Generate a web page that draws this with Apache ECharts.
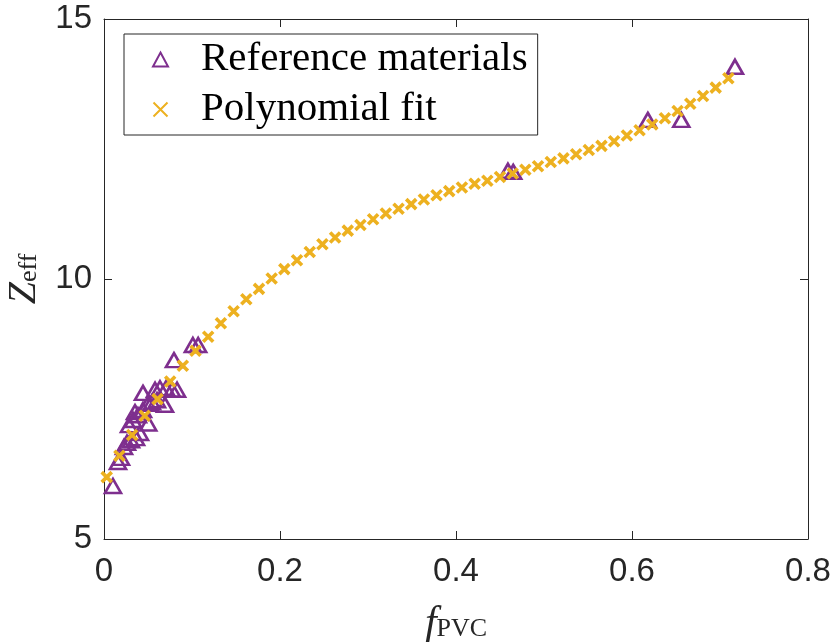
<!DOCTYPE html>
<html>
<head>
<meta charset="utf-8">
<script src="https://cdn.jsdelivr.net/npm/echarts@6/dist/echarts.min.js"></script>
<style>html,body{margin:0;padding:0;background:#fff;}#c{width:831px;height:642px;}</style>
</head>
<body>
<div id="c"></div>
<script>
// Reference materials (f_PVC, Z_eff)
const refX = [0.0102,0.0159,0.0193,0.0227,0.0261,0.0307,0.0364,0.0409,0.0284,0.0330,0.0352,0.0386,0.0443,0.0500,0.0545,0.0602,0.0693,0.0503,0.0443,0.0580,0.0636,0.0705,0.0773,0.0830,0.0795,0.1010,0.1070,0.4590,0.4650,0.6180,0.6560,0.7170];
const refY = [6.02,6.48,6.56,6.77,6.85,6.90,6.94,7.04,7.19,7.29,7.44,7.38,7.48,7.60,7.63,7.67,7.58,7.22,7.81,7.87,7.90,7.90,7.87,7.87,8.44,8.73,8.73,12.08,12.06,13.06,13.06,14.08];
// Polynomial fit samples
const fitX = [0.0031,0.0175,0.0319,0.0463,0.0608,0.0752,0.0896,0.1040,0.1184,0.1328,0.1473,0.1617,0.1761,0.1905,0.2049,0.2193,0.2338,0.2482,0.2626,0.2770,0.2914,0.3058,0.3203,0.3347,0.3491,0.3635,0.3779,0.3923,0.4067,0.4212,0.4356,0.4500,0.4644,0.4788,0.4932,0.5077,0.5221,0.5365,0.5509,0.5653,0.5797,0.5942,0.6086,0.6230,0.6374,0.6518,0.6662,0.6807,0.6951,0.7095];
const fitY = [6.19,6.60,7.00,7.37,7.69,8.03,8.33,8.62,8.89,9.15,9.38,9.61,9.81,10.01,10.19,10.36,10.52,10.67,10.80,10.93,11.04,11.15,11.26,11.35,11.44,11.53,11.61,11.69,11.76,11.83,11.89,11.96,12.03,12.10,12.17,12.25,12.32,12.40,12.48,12.56,12.65,12.76,12.86,12.97,13.09,13.23,13.37,13.52,13.68,13.86];
const xTicks = [0, 0.2, 0.4, 0.6, 0.8];
const yTicks = [5, 10, 15];
const seriesNames = ['Reference materials', 'Polynomial fit'];

const refData = refX.map((x, i) => [x, refY[i]]);
const fitData = fitX.map((x, i) => [x, fitY[i]]);

const axisColor = '#262626';
const labelFont = {fontFamily: 'Liberation Sans', fontSize: 33, color: '#262626'};
const CROSS = 'path://M0,0L10,10M10,0L0,10';

const chart = echarts.init(document.getElementById('c'), null, {renderer: 'canvas'});
const baseX = {
  type: 'value', min: xTicks[0], max: xTicks[xTicks.length - 1], interval: 0.2,
  axisLine: {show: true, onZero: false, lineStyle: {color: axisColor, width: 1}},
  axisTick: {show: true, inside: true, length: 8, lineStyle: {color: axisColor}},
  splitLine: {show: false}
};
const baseY = {
  type: 'value', min: yTicks[0], max: yTicks[yTicks.length - 1], interval: 5,
  axisLine: {show: true, onZero: false, lineStyle: {color: axisColor, width: 1}},
  axisTick: {show: true, inside: true, length: 8, lineStyle: {color: axisColor}},
  splitLine: {show: false}
};
chart.setOption({
  animation: false,
  backgroundColor: '#ffffff',
  grid: {left: 104, right: 23, top: 19, bottom: 103, containLabel: false, outerBoundsMode: 'none'},
  legend: {
    left: 124, top: 34, orient: 'vertical',
    data: seriesNames,
    itemWidth: 15, itemHeight: 14, itemGap: 9,
    padding: [5, 10, 5, 28],
    borderColor: axisColor, borderWidth: 1, backgroundColor: '#fff',
    textStyle: {fontFamily: 'Liberation Serif', fontSize: 41, lineHeight: 40, color: '#000', padding: [0, 0, 0, 28]}
  },
  xAxis: [
    Object.assign({}, baseX, {
      position: 'bottom',
      axisLabel: Object.assign({margin: 16, formatter: v => String(v)}, labelFont),
      name: '{i|f}{s|PVC}', nameLocation: 'middle', nameGap: 64,
      nameTextStyle: {rich: {
        i: {fontFamily: 'Liberation Serif', fontStyle: 'italic', fontSize: 42, color: '#262626'},
        s: {fontFamily: 'Liberation Serif', fontSize: 26, color: '#262626', padding: [0, 0, -10, 0]}
      }}
    }),
    Object.assign({}, baseX, {position: 'top', axisLabel: {show: false}})
  ],
  yAxis: [
    Object.assign({}, baseY, {
      position: 'left',
      axisLabel: Object.assign({margin: 12}, labelFont),
      name: '{i|Z}{s|eff}', nameLocation: 'middle', nameGap: 60, nameRotate: 90,
      nameTextStyle: {rich: {
        i: {fontFamily: 'Liberation Serif', fontStyle: 'italic', fontSize: 40, color: '#262626'},
        s: {fontFamily: 'Liberation Serif', fontSize: 26, color: '#262626', padding: [0, 0, -10, 0]}
      }}
    }),
    Object.assign({}, baseY, {position: 'right', axisLabel: {show: false}})
  ],
  series: [
    {
      name: seriesNames[0], type: 'scatter', data: refData,
      symbol: 'triangle', symbolSize: [16, 14],
      itemStyle: {color: 'rgba(0,0,0,0)', borderColor: '#7E2F8E', borderWidth: 2.6, opacity: 1},
      z: 2
    },
    {
      name: seriesNames[1], type: 'scatter', data: fitData,
      symbol: CROSS, symbolSize: 10,
      itemStyle: {color: 'rgba(0,0,0,0)', borderColor: '#EDB120', borderWidth: 3.6, opacity: 1},
      z: 3
    }
  ]
});
</script>
</body>
</html>
